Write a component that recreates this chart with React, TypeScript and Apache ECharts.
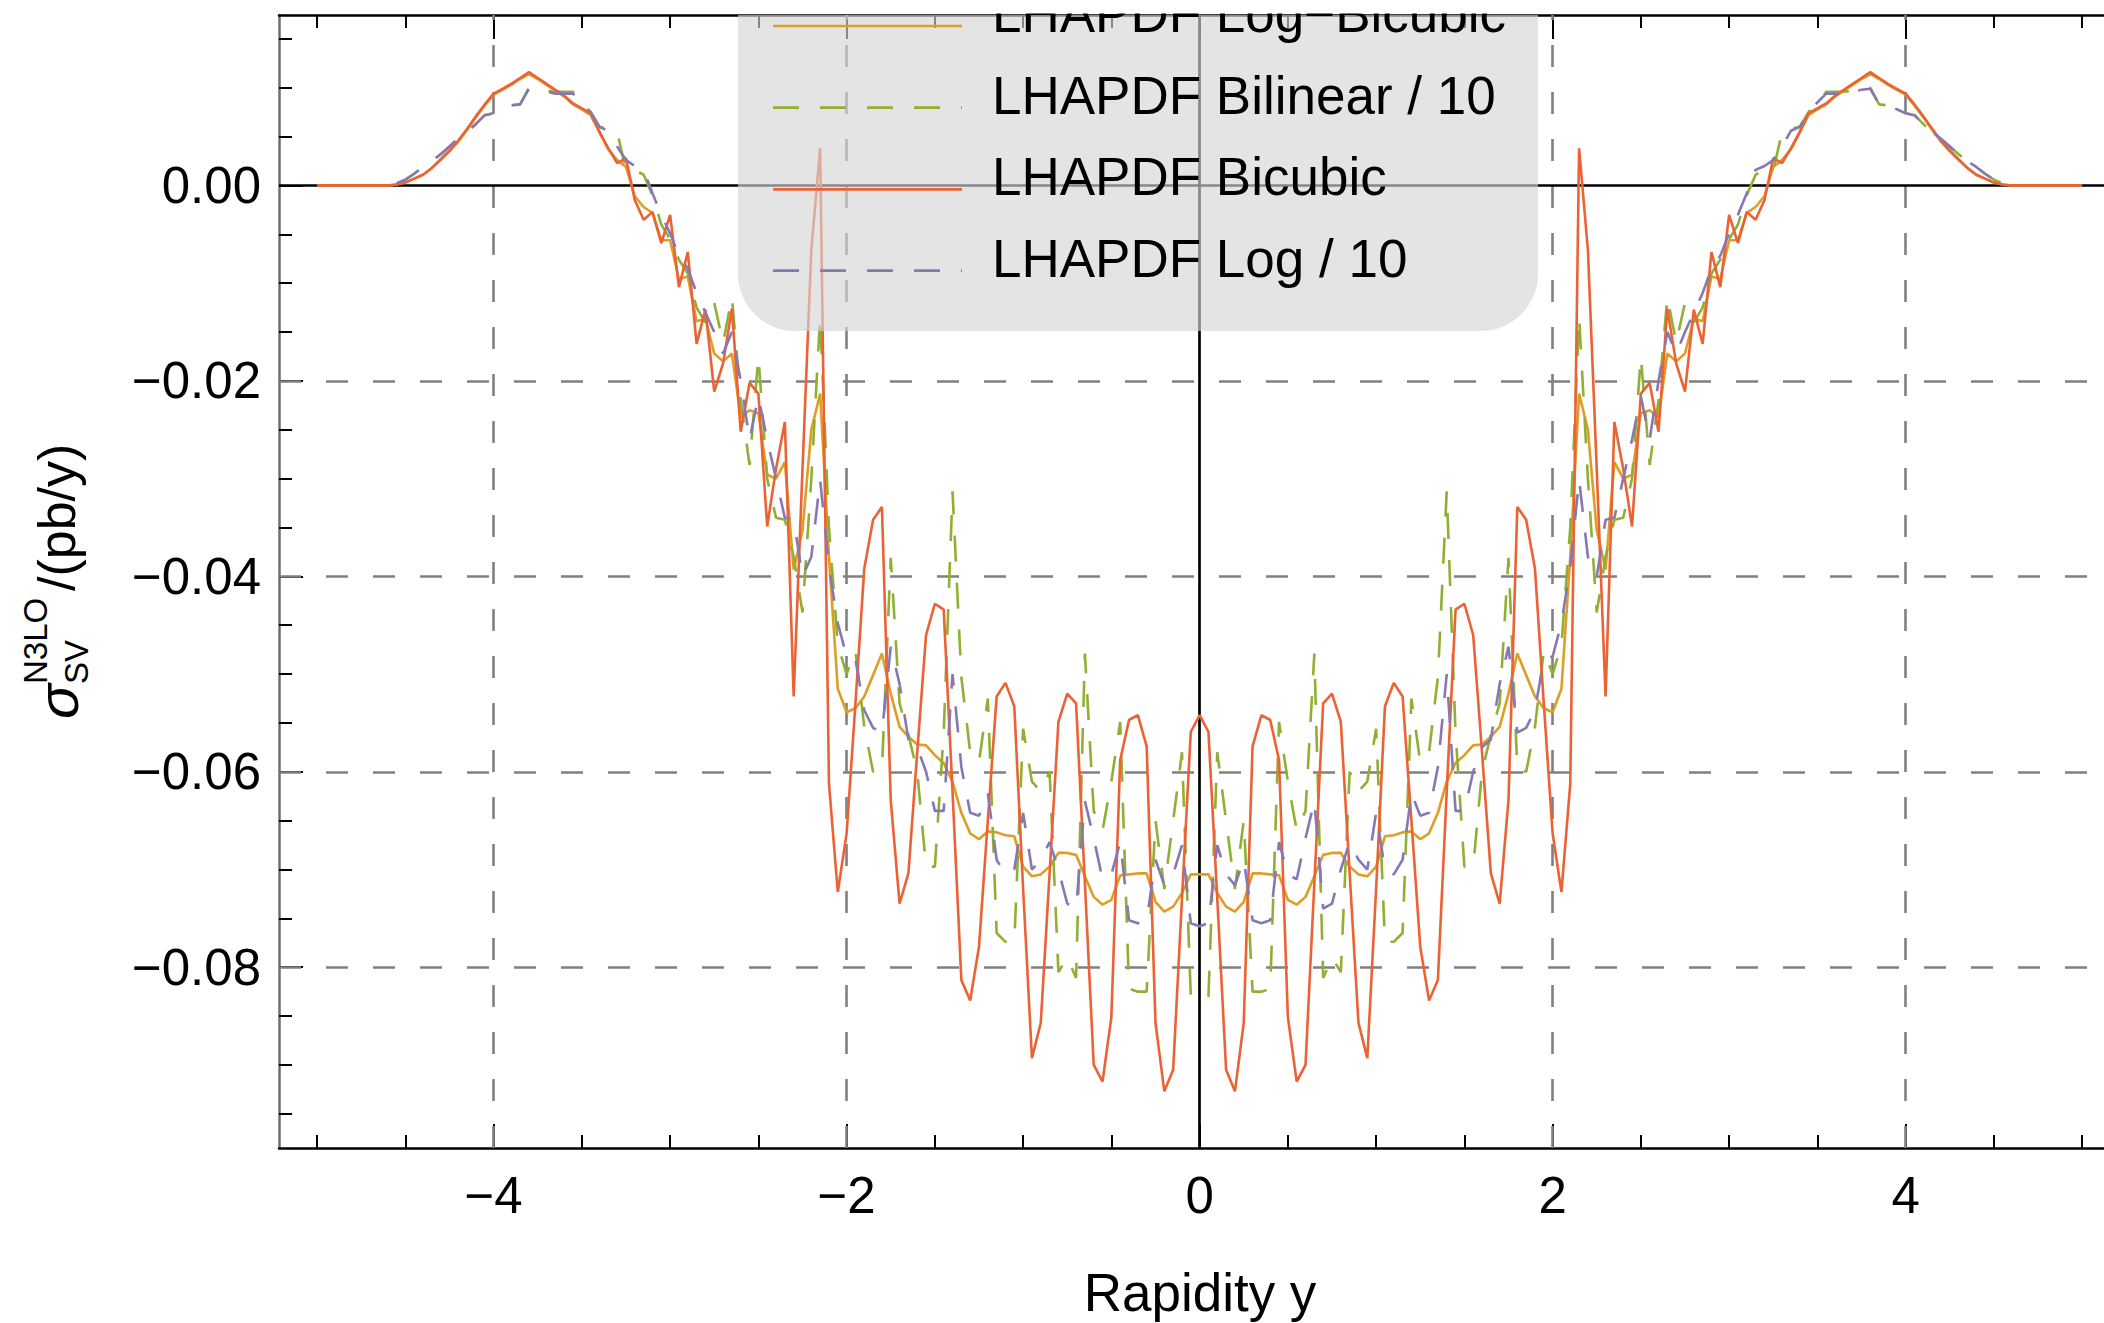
import React, { useEffect, useRef } from 'react';
import * as echarts from 'echarts';

// Rapidity grid step; each array below holds the right half (y = 0, 0.05, 0.10, ...),
// the plot is mirror-symmetric in rapidity.
const STEP = 0.05;

const LOG_BICUBIC = [
  -0.0705, -0.0705, -0.0724, -0.0738, -0.0743, -0.0733, -0.0704, -0.0704, -0.0705, -0.0706,
  -0.0731, -0.0736, -0.0728, -0.0707, -0.0685, -0.0683, -0.0683, -0.0697, -0.0705, -0.0707,
  -0.0697, -0.0666, -0.0665, -0.0662, -0.0661, -0.0669, -0.0663, -0.0642, -0.0610, -0.0591,
  -0.0583, -0.0573, -0.0572, -0.0564, -0.0554, -0.0520, -0.0479, -0.0501, -0.0523, -0.0535,
  -0.0539, -0.0515, -0.0380, -0.0213, -0.0250, -0.0353, -0.0393, -0.0283, -0.0300, -0.0296,
  -0.0233, -0.0230, -0.0237, -0.0172, -0.0180, -0.0172, -0.0136, -0.0139, -0.0093, -0.0096,
  -0.0056, -0.0056, -0.0028, -0.0022, -0.0011, 0.0019, 0.0026, 0.0037, 0.0054, 0.0072,
  0.0078, 0.0083, 0.0091, 0.0097, 0.0103, 0.0109, 0.0114, 0.0109, 0.0103, 0.0098,
  0.0093, 0.0082, 0.0070, 0.0057, 0.0045, 0.0035, 0.0026, 0.0018, 0.0011, 0.0007,
  0.0003, 0.0001, 0, 0, 0, 0, 0, 0, 0, 0, 0,
];

const BILINEAR_10 = [
  -0.0834, -0.0830, -0.0580, -0.0650, -0.0720, -0.0650, -0.0825, -0.0825, -0.0822, -0.0549,
  -0.0610, -0.0660, -0.0640, -0.0479, -0.0811, -0.0790, -0.0805, -0.0600, -0.0620, -0.0610,
  -0.0556, -0.0774, -0.0774, -0.0765, -0.0525, -0.0590, -0.0580, -0.0503, -0.0313, -0.0560,
  -0.0697, -0.0697, -0.0600, -0.0562, -0.0530, -0.0381, -0.0598, -0.0600, -0.0554, -0.0476,
  -0.0500, -0.0470, -0.0350, -0.0134, -0.0300, -0.0437, -0.0380, -0.0342, -0.0340, -0.0300,
  -0.0175, -0.0286, -0.0220, -0.0114, -0.0161, -0.0120, -0.0140, -0.0125, -0.0090, -0.0076,
  -0.0055, -0.0040, -0.0010, 0.0011, 0.0016, 0.0015, 0.0055, 0.0058, 0.0060, 0.0075,
  0.0085, 0.0096, 0.0096, 0.0096, 0.0097, 0.0098, 0.0100, 0.0083, 0.0082, 0.0078,
  0.0074, 0.0072, 0.0063, 0.0055, 0.0048, 0.0040, 0.0032, 0.0025, 0.0019, 0.0012,
  0.0006, 0.0002,
];

const BICUBIC = [
  -0.0542, -0.0559, -0.0730, -0.0905, -0.0927, -0.0857, -0.0574, -0.0542, -0.0547, -0.0588,
  -0.0851, -0.0917, -0.0900, -0.0714, -0.0530, -0.0520, -0.0549, -0.0704, -0.0857, -0.0893,
  -0.0720, -0.0533, -0.0509, -0.0523, -0.0650, -0.0779, -0.0834, -0.0813, -0.0620, -0.0434,
  -0.0428, -0.0460, -0.0580, -0.0704, -0.0735, -0.0629, -0.0329, -0.0342, -0.0392, -0.0530,
  -0.0663, -0.0723, -0.0612, 0.0038, -0.0066, -0.0290, -0.0523, -0.0242, -0.0290, -0.0349,
  -0.0213, -0.0202, -0.0252, -0.0126, -0.0182, -0.0211, -0.0127, -0.0162, -0.0068, -0.0104,
  -0.0030, -0.0059, -0.0027, -0.0035, -0.0015, 0.0028, 0.0023, 0.0038, 0.0055, 0.0074,
  0.0079, 0.0084, 0.0092, 0.0098, 0.0104, 0.0110, 0.0116, 0.0110, 0.0104, 0.0099,
  0.0094, 0.0083, 0.0071, 0.0058, 0.0046, 0.0036, 0.0027, 0.0018, 0.0011, 0.0007,
  0.0003, 0.0001, 0, 0, 0, 0, 0, 0, 0, 0, 0,
];

const LOG_10 = [
  -0.0758, -0.0755, -0.0675, -0.0705, -0.0716, -0.0690, -0.0752, -0.0755, -0.0752, -0.0672,
  -0.0705, -0.0710, -0.0668, -0.0630, -0.0740, -0.0735, -0.0700, -0.0672, -0.0690, -0.0700,
  -0.0642, -0.0700, -0.0705, -0.0690, -0.0622, -0.0645, -0.0642, -0.0595, -0.0500, -0.0640,
  -0.0640, -0.0600, -0.0575, -0.0567, -0.0510, -0.0472, -0.0560, -0.0555, -0.0537, -0.0485,
  -0.0482, -0.0448, -0.0390, -0.0301, -0.0380, -0.0400, -0.0342, -0.0340, -0.0300, -0.0260,
  -0.0216, -0.0260, -0.0200, -0.0150, -0.0172, -0.0150, -0.0130, -0.0110, -0.0085, -0.0072,
  -0.0049, -0.0030, -0.0008, 0.0016, 0.0020, 0.0026, 0.0040, 0.0056, 0.0060, 0.0075,
  0.0085, 0.0094, 0.0094, 0.0094, 0.0096, 0.0098, 0.0099, 0.0083, 0.0082, 0.0078,
  0.0074, 0.0072, 0.0063, 0.0055, 0.0048, 0.0040, 0.0032, 0.0025, 0.0019, 0.0012,
  0.0006, 0.0002,
];

const SERIES_NAMES = ['LHAPDF Log\u2212Bicubic', 'LHAPDF Bilinear / 10', 'LHAPDF Bicubic', 'LHAPDF Log / 10'];
const SERIES_COLORS = ['#E19C24', '#8FB032', '#EB6235', '#8778B3'];
const SERIES_DASHED = [false, true, false, true];

const X_MIN = -5.216;
const X_MAX = 5.124;
const Y_MIN = -0.0985;
const Y_MAX = 0.01745;

const X_MAJOR = [-4, -2, 0, 2, 4];
const X_MINOR = [-5, -4.5, -3.5, -3, -2.5, -1.5, -1, -0.5, 0.5, 1, 1.5, 2.5, 3, 3.5, 4.5, 5];
const Y_MAJOR = [-0.08, -0.06, -0.04, -0.02, 0];
const Y_MINOR = [-0.095, -0.09, -0.085, -0.075, -0.07, -0.065, -0.055, -0.05, -0.045, -0.035, -0.03, -0.025, -0.015, -0.01, -0.005, 0.005, 0.01, 0.015];
const X_GRID = [-4, -2, 2, 4];
const Y_GRID = [-0.08, -0.06, -0.04, -0.02];

const FONT = '"Liberation Sans", Arial, Helvetica, sans-serif';

function mirror(half: number[]): number[][] {
  const out: number[][] = [];
  for (let i = half.length - 1; i >= 1; i--) out.push([-Number((i * STEP).toFixed(2)), half[i]]);
  for (let i = 0; i < half.length; i++) out.push([Number((i * STEP).toFixed(2)), half[i]]);
  return out;
}

const fmtX = (v: number) => (v < 0 ? '\u2212' + Math.abs(v) : String(v));
const fmtY = (v: number) => (Math.abs(v) < 1e-9 ? '0.00' : (v < 0 ? '\u2212' : '') + Math.abs(v).toFixed(2));

export default function App() {
  const ref = useRef<HTMLDivElement>(null);

  useEffect(() => {
    if (!ref.current) return;
    const chart = echarts.init(ref.current, undefined, { renderer: 'svg' });

    const tickStyle = { color: '#000', width: 2 };
    const xBase = { type: 'value', min: X_MIN, max: X_MAX, gridIndex: 0, splitLine: { show: false } };
    const yBase = { type: 'value', min: Y_MIN, max: Y_MAX, gridIndex: 0, splitLine: { show: false } };

    const halves = [LOG_BICUBIC, BILINEAR_10, BICUBIC, LOG_10];
    const dataSeries = halves.map((h, k) => ({
      type: 'line',
      name: SERIES_NAMES[k],
      data: mirror(h),
      xAxisIndex: 0,
      yAxisIndex: 0,
      showSymbol: false,
      symbol: 'none',
      silent: true,
      clip: true,
      z: 5 + k,
      lineStyle: {
        color: SERIES_COLORS[k],
        width: 2.6,
        type: SERIES_DASHED[k] ? [26, 21] : 'solid',
      },
    }));

    const legendRows = [26, 107.7, 189.3, 270.7];
    const legendEls: any[] = [];
    legendEls.push({
      type: 'rect',
      z: 100,
      shape: { x: 738, y: 15, width: 800, height: 316, r: [0, 0, 57, 57] },
      style: { fill: 'rgba(212,212,212,0.64)' },
    });
    SERIES_NAMES.forEach((name, k) => {
      legendEls.push({
        type: 'line',
        z: 101,
        shape: { x1: 773, y1: legendRows[k], x2: 962, y2: legendRows[k] },
        style: {
          stroke: SERIES_COLORS[k],
          lineWidth: 2.7,
          lineDash: SERIES_DASHED[k] ? [26, 21] : null,
        },
      });
      legendEls.push({
        type: 'text',
        z: 101,
        x: 992,
        y: legendRows[k] - 12.5,
        style: {
          text: name,
          fontSize: 53,
          fontFamily: FONT,
          fill: '#000',
          align: 'left',
          verticalAlign: 'middle',
        },
      });
    });
    // page area above the frame stays blank (legend is clipped by the frame)
    legendEls.push({
      type: 'rect',
      z: 110,
      shape: { x: 700, y: 0, width: 900, height: 13.5 },
      style: { fill: '#ffffff' },
    });

    const titleEls: any[] = [
      {
        type: 'text', z: 100, x: 1200, y: 1292,
        style: { text: 'Rapidity y', fontSize: 53, fontFamily: FONT, fill: '#000', align: 'center', verticalAlign: 'middle' },
      },
      {
        type: 'text', z: 100, x: 57, y: 719, rotation: Math.PI / 2,
        style: { text: '\u03C3', fontSize: 58, fontStyle: 'italic', fontFamily: FONT, fill: '#000', align: 'left', verticalAlign: 'middle' },
      },
      {
        type: 'text', z: 100, x: 76, y: 684, rotation: Math.PI / 2,
        style: { text: 'SV', fontSize: 33, fontFamily: FONT, fill: '#000', align: 'left', verticalAlign: 'middle' },
      },
      {
        type: 'text', z: 100, x: 35, y: 684, rotation: Math.PI / 2,
        style: { text: 'N3LO', fontSize: 33, fontFamily: FONT, fill: '#000', align: 'left', verticalAlign: 'middle' },
      },
      {
        type: 'text', z: 100, x: 57, y: 591, rotation: Math.PI / 2,
        style: { text: '/(pb/y)', fontSize: 52, fontFamily: FONT, fill: '#000', align: 'left', verticalAlign: 'middle' },
      },
    ];

    const option: any = {
      animation: false,
      backgroundColor: '#ffffff',
      grid: { left: 279, right: 0, top: 15, bottom: 175, containLabel: false },
      xAxis: [
        {
          ...xBase,
          position: 'bottom',
          axisLine: { show: true, onZero: false, lineStyle: { color: '#000', width: 2.5 } },
          axisTick: { show: true, inside: true, length: 24, customValues: X_MAJOR, lineStyle: tickStyle },
          axisLabel: { show: true, customValues: X_MAJOR, formatter: fmtX, fontSize: 51, fontFamily: FONT, color: '#000', margin: 22 },
        },
        {
          ...xBase,
          position: 'bottom',
          axisLine: { show: false, onZero: false },
          axisTick: { show: true, inside: true, length: 13, customValues: X_MINOR, lineStyle: tickStyle },
          axisLabel: { show: false },
        },
        {
          ...xBase,
          position: 'top',
          axisLine: { show: true, onZero: false, lineStyle: { color: '#000', width: 2.5 } },
          axisTick: { show: true, inside: true, length: 24, customValues: X_MAJOR, lineStyle: tickStyle },
          axisLabel: { show: false },
        },
        {
          ...xBase,
          position: 'top',
          axisLine: { show: false, onZero: false },
          axisTick: { show: true, inside: true, length: 13, customValues: X_MINOR, lineStyle: tickStyle },
          axisLabel: { show: false },
        },
      ],
      yAxis: [
        {
          ...yBase,
          position: 'left',
          axisLine: { show: true, onZero: false, lineStyle: { color: '#6e6e6e', width: 2.5 } },
          axisTick: { show: true, inside: true, length: 24, customValues: Y_MAJOR, lineStyle: tickStyle },
          axisLabel: { show: true, customValues: Y_MAJOR, formatter: fmtY, fontSize: 51, fontFamily: FONT, color: '#000', margin: 18 },
        },
        {
          ...yBase,
          position: 'left',
          axisLine: { show: false, onZero: false },
          axisTick: { show: true, inside: true, length: 13, customValues: Y_MINOR, lineStyle: tickStyle },
          axisLabel: { show: false },
        },
      ],
      series: [
        {
          type: 'line',
          name: 'grid',
          data: [[0, 0]],
          xAxisIndex: 0,
          yAxisIndex: 0,
          showSymbol: false,
          symbol: 'none',
          silent: true,
          z: 1,
          lineStyle: { opacity: 0 },
          markLine: {
            silent: true,
            symbol: ['none', 'none'],
            label: { show: false },
            emphasis: { disabled: true },
            lineStyle: { color: '#808080', width: 2.6, type: [22, 25] },
            data: [...X_GRID.map((v) => ({ xAxis: v })), ...Y_GRID.map((v) => ({ yAxis: v }))],
          },
        },
        {
          type: 'line',
          name: 'zero',
          data: [[0, 0]],
          xAxisIndex: 0,
          yAxisIndex: 0,
          showSymbol: false,
          symbol: 'none',
          silent: true,
          z: 2,
          lineStyle: { opacity: 0 },
          markLine: {
            silent: true,
            symbol: ['none', 'none'],
            label: { show: false },
            emphasis: { disabled: true },
            lineStyle: { color: '#000', width: 2.7, type: 'solid' },
            data: [{ xAxis: 0 }, { yAxis: 0 }],
          },
        },
        ...dataSeries,
      ],
      graphic: { elements: [...legendEls, ...titleEls] },
    };

    chart.setOption(option);
    return () => chart.dispose();
  }, []);

  return (
    <div
      ref={ref}
      style={{ position: 'absolute', left: 0, top: 0, width: 2104, height: 1323, background: '#fff' }}
    />
  );
}
